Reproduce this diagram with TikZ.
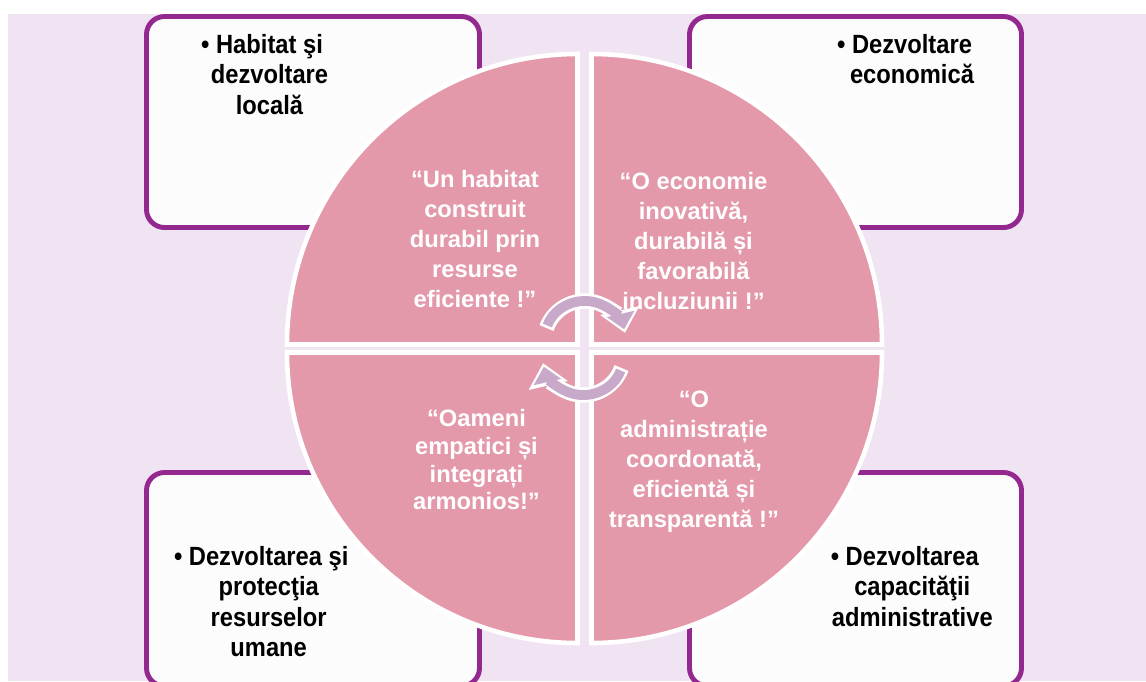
\documentclass[tikz,border=0pt]{standalone}
\usepackage{fontspec}
\setmainfont{Liberation Sans}
\newfontfamily\boxfont{Liberation Sans}[FakeStretch=0.9]
\usetikzlibrary{arrows.meta}
\definecolor{lavbg}{RGB}{241,228,242}
\definecolor{quadpink}{RGB}{228,153,170}
\definecolor{framepurple}{RGB}{147,41,143}
\definecolor{boxwhite}{RGB}{252,252,252}
\definecolor{cyclegray}{RGB}{201,169,201}

\begin{document}
\begin{tikzpicture}[x=0.02cm, y=-0.02cm,
  goalbox/.style={draw=framepurple, fill=boxwhite, line width=2.8pt, rounded corners=0.36cm},
  goaltext/.style={anchor=north, inner sep=0pt, align=center, font=\boxfont\bfseries\fontsize{15}{17.3}\selectfont},
  quadrant/.style={fill=quadpink, draw=white, line width=2.6pt},
  visiontext/.style={anchor=north, inner sep=0pt, align=center, text=white, font=\bfseries\fontsize{13.5}{17}\selectfont},
  cyclehalo/.style={white, line width=8.6pt, -{Triangle[width=22pt,length=13pt]}},
  cyclearrow/.style={cyclegray, line width=5.6pt, shorten >=2pt, shorten <=1.5pt, -{Triangle[width=15.5pt,length=9pt]}}]
\useasboundingbox (0,0) rectangle (1146,681);
\clip (0,0) rectangle (1146,681);
\fill[white] (0,0) rectangle (1146,681);
\fill[lavbg] (8,14) rectangle (1146,681);
% goal boxes behind the circle
\draw[goalbox] (146.5,16.5) rectangle (479.5,227.5);
\draw[goalbox] (689.5,16.5) rectangle (1021.5,227.5);
\draw[goalbox] (146.5,472.5) rectangle (479.5,686);
\draw[goalbox] (689.5,472.5) rectangle (1021.5,686);
\node[goaltext] (habitat) at (269.5,34) {\llap{• }Habitat şi\\dezvoltare\\locală};
\node[goaltext] (economica) at (912,34) {\llap{• }Dezvoltare\\economică};
\node[goaltext] (umane) at (268.7,546) {\llap{• }Dezvoltarea şi\\protecţia\\resurselor\\umane};
\node[goaltext] (capacitate) at (912.3,546) {\llap{• }Dezvoltarea\\capacităţii\\administrative};
% four quadrants
\filldraw[quadrant] (577.5,344.5) -- ++(180:290.5) arc[start angle=180, end angle=270, radius=290.5] -- cycle;
\filldraw[quadrant] (591.5,344.5) -- ++(270:290.5) arc[start angle=270, end angle=360, radius=290.5] -- cycle;
\filldraw[quadrant] (591.5,352.5) -- ++(0:290.5) arc[start angle=0, end angle=90, radius=290.5] -- cycle;
\filldraw[quadrant] (577.5,352.5) -- ++(90:290.5) arc[start angle=90, end angle=180, radius=290.5] -- cycle;
% cycle arrows
\coordinate (cyctop) at (585,342);
\coordinate (cycbot) at (583,354);
\draw[cyclehalo] ([shift={(200:41)}]cyctop) arc[start angle=200, end angle=347, radius=41];
\draw[cyclearrow] ([shift={(200:41)}]cyctop) arc[start angle=200, end angle=347, radius=41];
\draw[cyclehalo] ([shift={(20:41)}]cycbot) arc[start angle=20, end angle=167, radius=41];
\draw[cyclearrow] ([shift={(20:41)}]cycbot) arc[start angle=20, end angle=167, radius=41];
% visions
\node[visiontext] (vhabitat) at (475,170) {“Un habitat\\construit\\durabil prin\\resurse\\eficiente !”};
\node[visiontext] (veconomie) at (693.5,172) {“O economie\\inovativă,\\durabilă și\\favorabilă\\incluziunii !”};
\node[visiontext, font=\bfseries\fontsize{13.5}{15.8}\selectfont] (voameni) at (476.5,409) {“Oameni\\empatici și\\integrați\\armonios!”};
\node[visiontext] (vadmin) at (694,391) {“O\\administrație\\coordonată,\\eficientă și\\transparentă !”};
\end{tikzpicture}
\end{document}
